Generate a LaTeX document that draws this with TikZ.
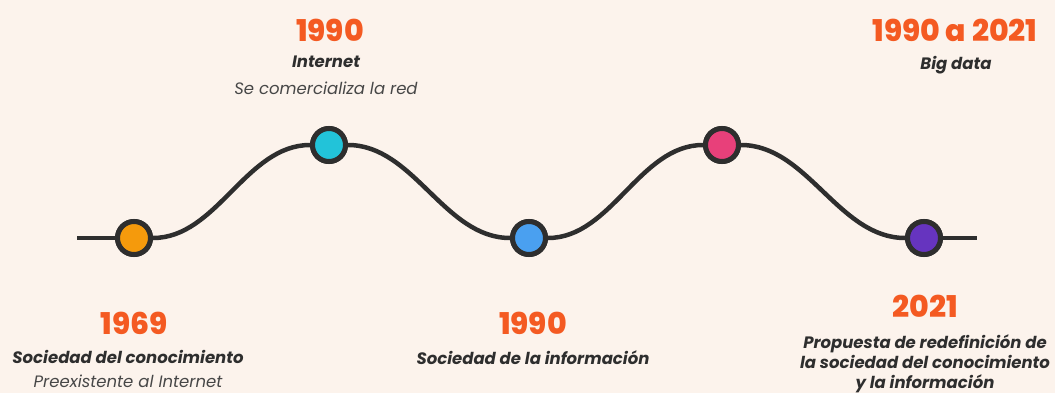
\documentclass[tikz,border=0pt]{standalone}
\usepackage{fontspec}
\setmainfont{Poppins}
\newfontface\yearfont{Poppins ExtraBold}
\definecolor{bg}{HTML}{FCF3EC}
\definecolor{yearc}{HTML}{F45A22}
\definecolor{linec}{HTML}{2E2E2E}
\definecolor{cOrange}{HTML}{F59A0C}
\definecolor{cCyan}{HTML}{22C3D9}
\definecolor{cBlue}{HTML}{4AA0F0}
\definecolor{cPink}{HTML}{E8407A}
\definecolor{cPurple}{HTML}{6634BF}
\definecolor{grayt}{HTML}{474747}
\begin{document}
\begin{tikzpicture}[x=1pt,y=-1pt,
  dot/.style={circle,draw=linec,line width=5pt,minimum size=33pt,inner sep=0pt},
  year/.style={text=yearc,font=\yearfont\fontsize{30}{32}\selectfont,inner sep=0pt},
  title/.style={text=linec,font=\bfseries\itshape\fontsize{16.5}{20}\selectfont,inner sep=0pt,align=center},
  sub/.style={text=grayt,font=\itshape\fontsize{16.5}{20}\selectfont,inner sep=0pt},
  wave/.style={draw=linec,line width=4.5pt}]
\fill[bg] (0,0) rectangle (1055,393);
\useasboundingbox (0,0) rectangle (1055,393);
\coordinate (start) at (77,238);
\coordinate (end) at (977,238);
\node[dot,fill=cOrange] (n1) at (134,238) {};
\node[dot,fill=cCyan] (n2) at (329,145) {};
\node[dot,fill=cBlue] (n3) at (529,238) {};
\node[dot,fill=cPink] (n4) at (722,145) {};
\node[dot,fill=cPurple] (n5) at (924,238) {};
\draw[wave] (start) -- (n1.west);
\draw[wave] (n1.east) to[out=0,in=180,looseness=0.9] (n2.west);
\draw[wave] (n2.east) to[out=0,in=180,looseness=0.9] (n3.west);
\draw[wave] (n3.east) to[out=0,in=180,looseness=0.9] (n4.west);
\draw[wave] (n4.east) to[out=0,in=180,looseness=0.9] (n5.west);
\draw[wave] (n5.east) -- (end);
% redraw dots on top
\node[dot,fill=cOrange] at (134,238) {};
\node[dot,fill=cCyan] at (329,145) {};
\node[dot,fill=cBlue] at (529,238) {};
\node[dot,fill=cPink] at (722,145) {};
\node[dot,fill=cPurple] at (924,238) {};
% texts
\node[year] (y2) at (330,30) {1990};
\node[title] (t2) at (326,62) {Internet};
\node[sub] (s2) at (326,88) {Se comercializa la red};
\node[year] (y5) at (955,30) {1990 a 2021};
\node[title] (t5) at (956,65) {Big data};
\node[year] (y1) at (134,323) {1969};
\node[title] (t1) at (128,357) {Sociedad del conocimiento};
\node[sub] (s1) at (128,381) {Preexistente al Internet};
\node[year] (y3) at (533,323) {1990};
\node[title] (t3) at (533,358) {Sociedad de la información};
\node[year] (y4) at (925,306) {2021};
\node[title] (t4) at (925,364) {Propuesta de redefinición de\\la sociedad del conocimiento\\y la información};
\end{tikzpicture}
\end{document}
